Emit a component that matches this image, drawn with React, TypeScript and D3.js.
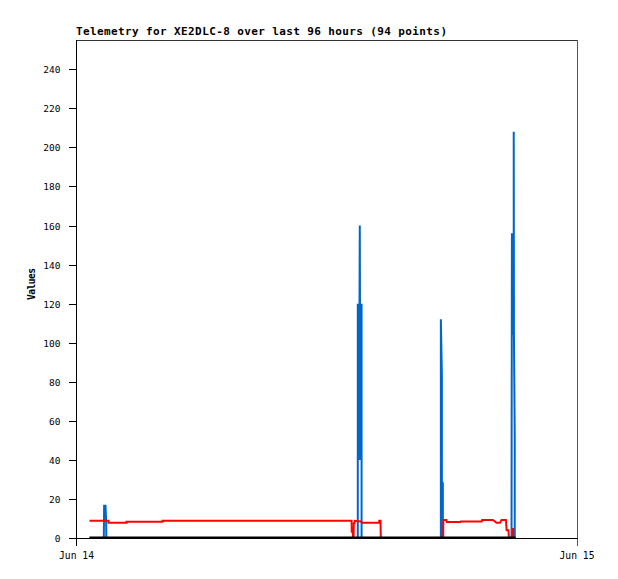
import React from "react";
import * as d3 from "d3";

const chartTitle = "Telemetry for XE2DLC-8 over last 96 hours (94 points)";
const yAxisTitle = "Values";
const chartDay = "2024-06-14";
const xDomain = ["2024-06-14T00:00:00", "2024-06-15T00:00:00"];
const xTickTimes = ["2024-06-14T00:00:00", "2024-06-15T00:00:00"];
const xTickLabels = ["Jun 14", "Jun 15"];
const yTicks = [0, 20, 40, 60, 80, 100, 120, 140, 160, 180, 200, 220, 240];
const yMax = 255;

const blueSeries: [string, number][] = [
  ["00:37:26", 0],
  ["01:18:37", 0],
  ["01:19:29", 16.5],
  ["01:23:31", 16.5],
  ["01:25:15", 9],
  ["01:25:49", 0],
  ["13:29:18", 0],
  ["13:29:18", 120],
  ["13:32:44", 40],
  ["13:35:02", 160],
  ["13:35:37", 120],
  ["13:38:30", 40],
  ["13:40:13", 120],
  ["13:40:13", 0],
  ["17:28:19", 0],
  ["17:28:19", 112],
  ["17:31:12", 84],
  ["17:31:12", 28],
  ["17:34:05", 28],
  ["17:34:05", 0],
  ["20:51:39", 0],
  ["20:51:56", 52],
  ["20:52:48", 156],
  ["20:55:24", 104],
  ["20:57:59", 156],
  ["20:57:59", 208],
  ["20:58:34", 104],
  ["21:00:52", 52],
  ["21:00:52", 0],
  ["21:03:10", 0],
];

const redSeries: [string, number][] = [
  ["00:37:26", 8.8],
  ["01:32:10", 8.8],
  ["01:32:10", 7.8],
  ["02:24:00", 7.8],
  ["02:24:00", 8.3],
  ["04:07:41", 8.3],
  ["04:07:41", 8.8],
  ["13:11:25", 8.8],
  ["13:12:00", 3.2],
  ["13:14:53", 3.2],
  ["13:15:27", 0],
  ["13:17:11", 0],
  ["13:17:46", 7.6],
  ["13:20:04", 7.6],
  ["13:20:38", 8.8],
  ["13:37:55", 8.5],
  ["13:42:14", 7.8],
  ["14:30:37", 7.8],
  ["14:31:12", 8.8],
  ["14:34:39", 8.8],
  ["14:35:31", 0],
  ["17:34:57", 0],
  ["17:35:31", 9.2],
  ["17:44:10", 9.2],
  ["17:45:19", 8.2],
  ["18:24:29", 8.2],
  ["18:25:38", 8.5],
  ["19:25:49", 8.5],
  ["19:26:59", 9.2],
  ["19:58:05", 9.2],
  ["20:08:44", 7.8],
  ["20:18:14", 7.8],
  ["20:23:08", 9.2],
  ["20:35:31", 9.2],
  ["20:37:32", 4],
  ["20:42:43", 4],
  ["20:44:10", 0],
  ["20:55:06", 0],
  ["20:55:23", 4.6],
  ["20:55:58", 4.6],
  ["20:56:16", 0],
  ["21:03:10", 0],
];

const blackSeries: [string, number][] = [
  ["00:37:26", 0],
  ["21:03:10", 0],
];

const W = 618;
const H = 579;
const left = 76.5;
const right = 577;
const top = 40;
const bottom = 538;

const parseFull = d3.timeParse("%Y-%m-%dT%H:%M:%S");
const toDate = (t: string) => parseFull(`${chartDay}T${t}`) as Date;

export default function App() {
  const x = d3
    .scaleTime()
    .domain(xDomain.map((d) => parseFull(d) as Date))
    .range([left, right]);
  const y = d3.scaleLinear().domain([0, yMax]).range([bottom, top]);

  const line = d3
    .line<[string, number]>()
    .x((d) => x(toDate(d[0])))
    .y((d) => y(d[1]));

  const mono = "'DejaVu Sans Mono', monospace";
  const xl = Math.round(left) + 0.5 - 1;
  const yb = Math.round(bottom) + 0.5;

  return (
    <svg
      width={W}
      height={H}
      style={{ position: "absolute", left: 0, top: 0, background: "#fff" }}
    >
      <rect x={0} y={0} width={W} height={H} fill="#fff" />
      <text
        x={76}
        y={35}
        fontFamily={mono}
        fontWeight="bold"
        fontSize={11}
        textLength={371}
        lengthAdjust="spacing"
        fill="#000"
      >
        {chartTitle}
      </text>
      {/* frame */}
      <line x1={xl} x2={Math.round(right) + 0.5} y1={top + 0.5} y2={top + 0.5} stroke="#333" />
      <line x1={Math.round(right) + 0.5} x2={Math.round(right) + 0.5} y1={top} y2={bottom + 8} stroke="#555" />
      {/* data */}
      <path d={line(blueSeries) || ""} fill="none" stroke="#0066cc" strokeWidth={2} />
      <path d={line(redSeries) || ""} fill="none" stroke="#ff0000" strokeWidth={2} />
      <path d={line(blackSeries) || ""} fill="none" stroke="#000" strokeWidth={2} transform="translate(0,-0.5)" />
      {/* axes */}
      <line x1={xl} x2={xl} y1={top} y2={bottom + 8} stroke="#000" />
      <line x1={xl} x2={Math.round(right) + 0.5} y1={yb} y2={yb} stroke="#000" />
      {yTicks.map((v) => {
        const yy = Math.round(y(v)) + 0.5;
        return (
          <g key={v}>
            <line x1={69} x2={xl} y1={yy} y2={yy} stroke="#000" />
            <text
              x={60.5}
              y={yy}
              dy="0.35em"
              textAnchor="end"
              fontFamily={mono}
              fontSize={9.5}
              fill="#000"
            >
              {v}
            </text>
          </g>
        );
      })}
      {xTickTimes.map((t, i) => {
        const xx = x(parseFull(t) as Date);
        return (
          <g key={t}>
            <text
              x={xx}
              y={558.5}
              textAnchor="middle"
              fontFamily={mono}
              fontSize={9.7}
              fill="#000"
            >
              {xTickLabels[i]}
            </text>
          </g>
        );
      })}
      <text
        transform="translate(35,284) rotate(-90)"
        textAnchor="middle"
        fontFamily={mono}
        fontWeight="bold"
        fontSize={9.6}
        textLength={32}
        lengthAdjust="spacing"
        fill="#000"
      >
        {yAxisTitle}
      </text>
    </svg>
  );
}
